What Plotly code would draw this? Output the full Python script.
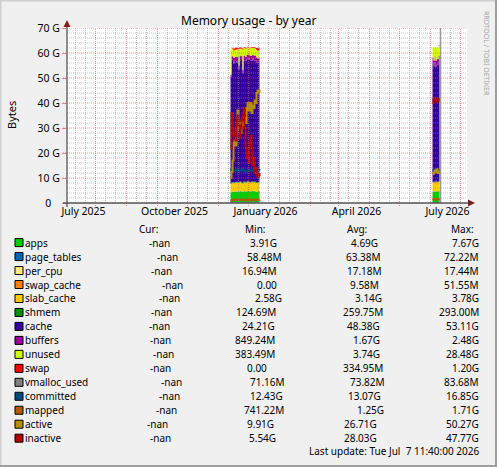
import plotly.graph_objects as go
import pandas as pd

# ---------------- data (values in GiB) ----------------
block1_start = "2025-11-13"
block2_start = "2026-06-03"

apps_b1 = [4.2, 4.4, 4.5, 4.3, 4.6, 4.5, 4.4, 4.7, 4.5, 4.6, 4.8, 4.5, 4.4, 4.6, 4.7, 4.5, 4.6, 4.8, 4.7, 4.5, 4.6, 4.9, 4.7, 4.6, 4.8, 4.5, 4.4, 4.6, 4.7, 4.5]
page_tables_b1 = [0.058, 0.060, 0.061, 0.062, 0.063, 0.062, 0.064, 0.063, 0.065, 0.064, 0.063, 0.062, 0.064, 0.065, 0.063, 0.064, 0.066, 0.065, 0.063, 0.064, 0.062, 0.063, 0.065, 0.064, 0.063, 0.062, 0.064, 0.063, 0.062, 0.063]
per_cpu_b1 = [0.017, 0.017, 0.017, 0.017, 0.017, 0.017, 0.017, 0.017, 0.017, 0.017, 0.017, 0.017, 0.017, 0.017, 0.017, 0.017, 0.017, 0.017, 0.017, 0.017, 0.017, 0.017, 0.017, 0.017, 0.017, 0.017, 0.017, 0.017, 0.017, 0.017]
swap_cache_b1 = [0.0, 0.0, 0.004, 0.006, 0.008, 0.010, 0.012, 0.010, 0.009, 0.011, 0.010, 0.008, 0.009, 0.010, 0.012, 0.011, 0.009, 0.010, 0.008, 0.009, 0.010, 0.011, 0.012, 0.010, 0.009, 0.010, 0.030, 0.050, 0.040, 0.030]
slab_cache_b1 = [3.3, 3.5, 3.6, 3.4, 3.5, 3.6, 3.7, 3.3, 3.5, 3.6, 3.4, 3.5, 3.2, 3.6, 3.5, 3.4, 3.6, 3.7, 3.5, 3.4, 3.6, 3.3, 3.5, 3.6, 3.4, 3.5, 3.6, 3.3, 3.4, 3.5]
shmem_b1 = [0.13, 0.20, 0.24, 0.25, 0.26, 0.26, 0.27, 0.26, 0.26, 0.27, 0.26, 0.26, 0.27, 0.26, 0.26, 0.27, 0.26, 0.26, 0.27, 0.26, 0.26, 0.27, 0.26, 0.26, 0.27, 0.26, 0.28, 0.29, 0.28, 0.27]
cache_b1 = [42.7, 49.3, 48.8, 47.8, 48.5, 48.4, 47.5, 48.5, 44.9, 48.1, 48.7, 49.2, 43.9, 48.5, 48.4, 48.4, 49.1, 48.5, 49.4, 49.0, 48.6, 48.3, 49.3, 48.5, 48.1, 48.9, 47.7, 48.0, 47.5, 47.8]
buffers_b1 = [1.0, 1.2, 1.5, 2.2, 1.8, 1.6, 2.4, 1.9, 1.7, 2.3, 1.5, 1.6, 1.4, 1.8, 2.1, 1.7, 1.6, 2.0, 1.5, 1.8, 1.7, 2.2, 1.6, 1.9, 2.4, 1.7, 2.0, 1.6, 2.3, 1.9]
unused_b1 = [10.0, 3.2, 2.8, 3.0, 2.6, 2.9, 3.1, 2.7, 6.5, 2.8, 3.0, 2.5, 8.0, 3.1, 2.9, 3.3, 2.8, 3.0, 2.6, 2.7, 3.2, 2.9, 2.5, 3.0, 2.8, 2.6, 3.1, 2.9, 2.7, 2.8]
swap_b1 = [0.0, 0.0, 0.6, 0.7, 0.8, 0.8, 0.7, 0.6, 0.6, 0.5, 0.5, 0.4, 0.4, 0.3, 0.3, 0.3, 0.2, 0.2, 0.2, 0.2, 0.2, 0.3, 0.3, 0.3, 0.4, 0.5, 0.9, 1.2, 1.2, 1.2]
vmalloc_used_b1 = [0.071, 0.072, 0.073, 0.073, 0.074, 0.073, 0.074, 0.074, 0.073, 0.074, 0.074, 0.073, 0.074, 0.074, 0.073, 0.074, 0.075, 0.074, 0.073, 0.074, 0.074, 0.073, 0.074, 0.075, 0.074, 0.073, 0.074, 0.076, 0.075, 0.074]
committed_b1 = [13.6, 12.9, 13.2, 13.0, 12.8, 13.1, 13.3, 13.0, 12.7, 12.9, 13.2, 13.4, 13.1, 13.0, 12.8, 12.6, 12.9, 13.1, 13.3, 13.0, 12.8, 13.0, 13.2, 13.1, 12.9, 13.0, 12.8, 13.1, 13.2, 13.0]
mapped_b1 = [1.0, 1.1, 1.2, 1.3, 1.2, 1.3, 1.4, 1.2, 1.3, 1.2, 1.3, 1.4, 1.3, 1.2, 1.3, 1.4, 1.3, 1.2, 1.3, 1.4, 1.3, 1.2, 1.4, 1.3, 1.2, 1.3, 1.4, 1.3, 1.2, 1.3]
active_b1 = [10.0, 12.5, 17.0, 24.0, 25.0, 23.0, 30.0, 37.0, 29.0, 32.0, 28.0, 33.0, 31.0, 33.0, 34.0, 32.0, 38.0, 40.0, 37.0, 39.0, 40.0, 36.0, 39.0, 38.0, 41.0, 40.0, 44.0, 45.0, 45.0, 44.0]
inactive_b1 = [21.5, 36.0, 30.0, 27.0, 28.0, 25.0, 33.0, 35.0, 31.0, 26.0, 30.0, 33.0, 35.0, 38.0, 30.0, 22.0, 18.0, 20.0, 16.0, 24.0, 27.0, 22.0, 15.0, 18.0, 12.0, 14.0, 11.0, 10.5, 11.0, 12.0]

apps_b2 = [4.5, 4.6, 4.4, 4.7, 4.5, 4.6, 4.8, 4.5]
page_tables_b2 = [0.068, 0.070, 0.071, 0.072, 0.070, 0.069, 0.071, 0.070]
per_cpu_b2 = [0.017, 0.017, 0.017, 0.017, 0.017, 0.017, 0.017, 0.017]
swap_cache_b2 = [0.0, 0.0, 0.0, 0.0, 0.0, 0.0, 0.01, 0.02]
slab_cache_b2 = [3.6, 3.7, 3.5, 3.8, 3.6, 3.7, 3.6, 3.5]
shmem_b2 = [0.25, 0.26, 0.26, 0.27, 0.26, 0.26, 0.27, 0.26]
cache_b2 = [47.5, 46.0, 48.0, 45.5, 47.0, 46.5, 48.0, 47.0]
buffers_b2 = [2.3, 2.4, 2.2, 2.5, 2.3, 2.4, 2.2, 2.4]
unused_b2 = [4.2, 5.0, 4.0, 5.3, 4.5, 4.6, 3.8, 4.5]
swap_b2 = [0.0, 0.0, 0.0, 0.0, 0.0, 0.0, 0.3, 0.6]
vmalloc_used_b2 = [0.072, 0.073, 0.074, 0.073, 0.074, 0.075, 0.074, 0.073]
committed_b2 = [13.0, 13.1, 12.9, 13.2, 13.0, 13.1, 13.0, 13.2]
mapped_b2 = [1.5, 1.6, 1.5, 1.4, 1.6, 1.5, 1.5, 1.6]
active_b2 = [11.5, 12.0, 13.0, 12.5, 13.5, 12.0, 12.5, 13.0]
inactive_b2 = [40.0, 41.5, 42.0, 41.0, 40.5, 41.0, 41.5, 41.0]

series_names = ["apps", "page_tables", "per_cpu", "swap_cache", "slab_cache", "shmem", "cache",
                "buffers", "unused", "swap", "vmalloc_used", "committed", "mapped", "active", "inactive"]
series_colors = ["#00CC00", "#0066B3", "#FFE680", "#FF8000", "#FFCC00", "#008F00", "#330099",
                 "#990099", "#CCFF00", "#FF0000", "#808080", "#00487D", "#B35A00", "#B38F00", "#B30000"]
area_series = ["apps", "page_tables", "per_cpu", "swap_cache", "slab_cache", "shmem", "cache",
               "buffers", "unused", "swap"]
line_series = ["vmalloc_used", "committed", "mapped", "active", "inactive"]

cur_vals = ["-nan", "-nan", "-nan", "-nan", "-nan", "-nan", "-nan", "-nan", "-nan", "-nan",
            "-nan", "-nan", "-nan", "-nan", "-nan"]
min_vals = ["3.91G", "58.48M", "16.94M", "0.00", "2.58G", "124.69M", "24.21G", "849.24M",
            "383.49M", "0.00", "71.16M", "12.43G", "741.22M", "9.91G", "5.54G"]
avg_vals = ["4.69G", "63.38M", "17.18M", "9.58M", "3.14G", "259.75M", "48.38G", "1.67G",
            "3.74G", "334.95M", "73.82M", "13.07G", "1.25G", "26.71G", "28.03G"]
max_vals = ["7.67G", "72.22M", "17.44M", "51.55M", "3.78G", "293.00M", "53.11G", "2.48G",
            "28.48G", "1.20G", "83.68M", "16.85G", "1.71G", "50.27G", "47.77G"]

y_tick_vals = [0, 10, 20, 30, 40, 50, 60, 70]
y_tick_text = ["0\u2007\u00a0", "10 G", "20 G", "30 G", "40 G", "50 G", "60 G", "70 G"]
x_tick_dates = ["2025-06-19", "2025-09-18", "2025-12-18", "2026-03-19", "2026-06-18"]
x_tick_text = ["July 2025", "October 2025", "January 2026", "April 2026", "July 2026"]

range_start = pd.Timestamp("2025-06-02 11:40")
range_end = pd.Timestamp("2026-07-07 11:40")
last_update = "Last update: Tue Jul\u00a0\u00a07 11:40:00 2026"

# ---------------- layout helpers (pixel -> paper) ----------------
W, H = 497, 467
PL, PR, PT, PB = 67, 467, 28, 203


def px_x(p):
    return (p - PL) / (PR - PL)


def px_y(p):
    return (PB - p) / (PB - PT)


data = {}
g = globals()
for n in series_names:
    data[n] = (g[n + "_b1"], g[n + "_b2"])
color_of = dict(zip(series_names, series_colors))

dates_b1 = pd.date_range(block1_start, periods=len(apps_b1), freq="D")
dates_b2 = pd.date_range(block2_start, periods=len(apps_b2), freq="D")
block_dates = [dates_b1, dates_b2]

FONT = "Noto Sans"
FS = 10
fig = go.Figure()

for n in area_series:
    for k in range(2):
        fig.add_trace(go.Scatter(
            x=block_dates[k], y=data[n][k], name=n, stackgroup=f"b{k}",
            mode="lines", line=dict(width=0, shape="hv"), fillcolor=color_of[n],
            showlegend=False, hoverinfo="x+y+name"))

for n in line_series:
    for k in range(2):
        fig.add_trace(go.Scatter(
            x=block_dates[k], y=data[n][k], name=n, mode="lines",
            line=dict(width=2, shape="hv", color=color_of[n]), showlegend=False))

shapes = []
MINOR = "rgba(143,143,143,0.55)"
MAJOR = "rgba(222,79,79,0.6)"
DASH = "1px,1px"

# horizontal grid (drawn above data like rrdtool)
for v in range(2, 70, 2):
    if v % 10:
        shapes.append(dict(type="line", xref="paper", yref="y", x0=0, x1=1, y0=v, y1=v,
                           line=dict(color=MINOR, width=1, dash=DASH), layer="above"))
# vertical minor grid
for m in pd.date_range("2025-06-01", "2026-07-01", freq="MS"):
    for off in (10, 20):
        d = m + pd.Timedelta(days=off)
        if range_start < d < range_end:
            shapes.append(dict(type="line", xref="x", yref="paper", x0=d, x1=d, y0=0, y1=1,
                               line=dict(color=MINOR, width=1, dash=DASH), layer="above"))
for v in range(10, 71, 10):
    shapes.append(dict(type="line", xref="paper", yref="y", x0=px_x(63), x1=1, y0=v, y1=v,
                       line=dict(color=MAJOR, width=1, dash=DASH), layer="above"))
for d in pd.date_range("2025-07-01", "2026-07-01", freq="MS"):
    shapes.append(dict(type="line", xref="x", yref="paper", x0=d, x1=d, y0=px_y(206), y1=1,
                       line=dict(color=MAJOR, width=1, dash=DASH), layer="above"))

# gray vertical rule near the end of data
shapes.append(dict(type="line", xref="x", yref="paper", x0="2026-06-11", x1="2026-06-11",
                   y0=0, y1=1, line=dict(color="#9a9a9a", width=1.5), layer="above"))

# axes
AX = "#555555"
shapes.append(dict(type="line", xref="paper", yref="paper", x0=px_x(63), x1=px_x(469),
                   y0=0, y1=0, line=dict(color=AX, width=1.3), layer="above"))
shapes.append(dict(type="line", xref="paper", yref="paper", x0=0, x1=0,
                   y0=px_y(207), y1=px_y(24), line=dict(color=AX, width=1.3), layer="above"))
ARROW = "#7F1F1F"
shapes.append(dict(type="path", xref="paper", yref="paper",
                   path=f"M {px_x(475)} {px_y(203)} L {px_x(468)} {px_y(199.5)} L {px_x(468)} {px_y(206.5)} Z",
                   fillcolor=ARROW, line=dict(width=0), layer="above"))
shapes.append(dict(type="path", xref="paper", yref="paper",
                   path=f"M {px_x(67)} {px_y(20)} L {px_x(63.5)} {px_y(27)} L {px_x(70.5)} {px_y(27)} Z",
                   fillcolor=ARROW, line=dict(width=0), layer="above"))

# frame of the image
shapes.append(dict(type="line", xref="paper", yref="paper", x0=px_x(0), x1=px_x(W), y0=px_y(0.75), y1=px_y(0.75),
                   line=dict(color="#CFCFCF", width=1.5)))
shapes.append(dict(type="line", xref="paper", yref="paper", x0=px_x(0.75), x1=px_x(0.75), y0=px_y(0), y1=px_y(H),
                   line=dict(color="#CFCFCF", width=1.5)))
shapes.append(dict(type="line", xref="paper", yref="paper", x0=px_x(496), x1=px_x(496), y0=px_y(0), y1=px_y(H),
                   line=dict(color="#9E9E9E", width=2)))
shapes.append(dict(type="line", xref="paper", yref="paper", x0=px_x(0), x1=px_x(W), y0=px_y(466), y1=px_y(466),
                   line=dict(color="#9E9E9E", width=2)))

annotations = []


def ann(text, xp, yp, xanchor="left", size=FS, color="black", **kw):
    annotations.append(dict(text=text, x=px_x(xp), y=px_y(yp), xref="paper", yref="paper",
                            xanchor=xanchor, yanchor="middle", showarrow=False,
                            font=dict(family=FONT, size=size, color=color), **kw))


ann("Memory usage - by year", 248.5, 21, xanchor="center", size=12)
ann("Bytes", 11, 115, xanchor="center", size=11, textangle=-90)
ann("RRDTOOL / TOBI OETIKER", 487, 53, xanchor="center", size=7, color="#A0A0A0", textangle=90)

# legend table
cur_x = [147, 155, 149, 160, 157, 149, 147, 148, 151, 148, 159, 157, 154, 145, 148]
min_x = [248.3, 245, 240, 255, 253.3, 233.5, 240, 232.5, 233, 245, 248.3, 248.3, 241.7, 245, 247.3]
avg_x = [349.3, 344.3, 345, 348.3, 352.7, 340.7, 345, 351, 351, 341, 348.3, 346, 355, 341.7, 341.7]
ann("Cur:", 137, 228.5)
ann("Min:", 243, 228.5)
ann("Avg:", 345, 228.5)
ann("Max:", 476, 228.5, xanchor="right")
for i, n in enumerate(series_names):
    yy = 242.6 + 13.97 * i
    shapes.append(dict(type="rect", xref="paper", yref="paper",
                       x0=px_x(15), x1=px_x(23), y0=px_y(yy - 4), y1=px_y(yy + 4),
                       fillcolor=color_of[n], line=dict(color="black", width=1)))
    ann(n, 22.8, yy)
    ann(cur_vals[i], cur_x[i], yy)
    ann(min_vals[i], min_x[i], yy)
    ann(avg_vals[i], avg_x[i], yy)
    ann(max_vals[i], 481, yy, xanchor="right")
ann(last_update, 481, 451, xanchor="right")

fig.update_layout(
    width=W, height=H,
    margin=dict(l=PL, r=W - PR, t=PT, b=H - PB, pad=0),
    paper_bgcolor="#F0F0F0", plot_bgcolor="#FFFFFF",
    showlegend=False, shapes=shapes, annotations=annotations,
    font=dict(family=FONT, size=FS, color="black"),
    xaxis=dict(type="date", range=[range_start, range_end], tickvals=pd.to_datetime(x_tick_dates),
               ticktext=x_tick_text, ticks="", showgrid=False, zeroline=False, showline=False,
               tickfont=dict(family=FONT, size=10.5), fixedrange=True),
    yaxis=dict(range=[0, 70], tickvals=y_tick_vals, ticktext=y_tick_text, ticks="outside",
               ticklen=4, tickcolor=MAJOR, showgrid=False, zeroline=False, showline=False,
               tickfont=dict(family=FONT, size=10.5), fixedrange=True),
)

fig.write_html("out.html", config={"displayModeBar": False},
               post_script="document.body.style.margin='0';document.body.style.overflow='hidden';")
